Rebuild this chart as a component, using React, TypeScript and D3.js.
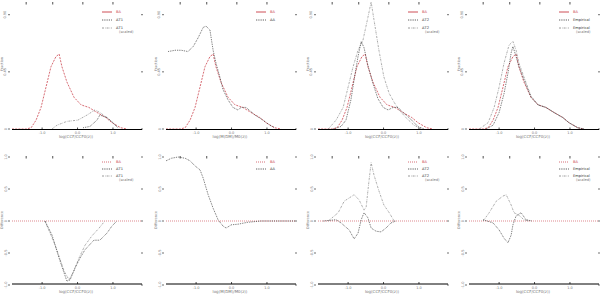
import React from 'react';
import * as d3 from 'd3';

// x axis (log CCF ratio) and tick values
const xDomain = [-1.85, 1.82];
const xTickVals = [-1, 0, 1];
const xTickLabels = ['-1.0', '0.0', '1.0'];
const topTickVals = [-1.45, -0.7, 0.15, 1.0];
const fracTicks = [0, 0.45, 0.9];
const fracTickLabels = ['0', '0.45', '0.90'];
const diffTicks = [-1, -0.5, 0, 0.5, 1];
const diffTickLabels = ['-1.0', '-0.5', '0', '0.5', '1.0'];

// distributions (top row)
const baX = [-1.85, -1.45, -1.31, -1.17, -1.03, -0.89, -0.75, -0.61, -0.52, -0.44, -0.3, -0.1, 0.1, 0.32, 0.55, 0.8, 0.97, 1.22, 1.4];
const baY = [0, 0, 0.01, 0.07, 0.17, 0.33, 0.49, 0.57, 0.59, 0.49, 0.37, 0.25, 0.19, 0.17, 0.13, 0.09, 0.05, 0.01, 0];

const dT1X = [0.16, 0.35, 0.55, 0.63, 0.83, 1.0, 1.14];
const dT1Y = [0.01, 0.02, 0.07, 0.11, 0.09, 0.05, 0.01];
const dT1sX = [-0.72, -0.58, -0.3, 0.01, 0.27, 0.49, 0.63, 0.83, 1.0, 1.14];
const dT1sY = [0, 0.03, 0.06, 0.07, 0.11, 0.15, 0.13, 0.09, 0.05, 0.01];

const dAX = [-1.79, -1.59, -1.42, -1.23, -1.08, -0.94, -0.8, -0.72, -0.61, -0.52, -0.44, -0.33, -0.24, -0.1, 0.04, 0.18, 0.27, 0.41, 0.66, 0.89, 1.08, 1.22];
const dAY = [0.61, 0.62, 0.62, 0.61, 0.65, 0.72, 0.8, 0.81, 0.78, 0.62, 0.52, 0.41, 0.31, 0.23, 0.17, 0.15, 0.17, 0.17, 0.11, 0.07, 0.03, 0.01];

const dT2X = [-1.42, -1.2, -1.06, -0.92, -0.83, -0.72, -0.63, -0.55, -0.44, -0.3, -0.16, -0.01, 0.13, 0.27, 0.41, 0.55, 0.72, 0.97, 1.14];
const dT2Y = [0, 0.02, 0.07, 0.23, 0.39, 0.57, 0.69, 0.64, 0.5, 0.36, 0.24, 0.17, 0.15, 0.17, 0.17, 0.13, 0.09, 0.02, 0];
const dT2sX = [-1.56, -1.34, -1.14, -1.0, -0.86, -0.72, -0.58, -0.44, -0.35, -0.27, -0.13, 0.01, 0.16, 0.3, 0.44, 0.63, 0.86, 1.06];
const dT2sY = [0, 0.07, 0.17, 0.33, 0.49, 0.62, 0.7, 0.88, 1.0, 0.86, 0.62, 0.41, 0.28, 0.21, 0.15, 0.09, 0.03, 0];

const empX = [-1.37, -1.17, -1.0, -0.86, -0.75, -0.66, -0.61, -0.52, -0.44, -0.3, -0.1, 0.1, 0.32, 0.55, 0.8, 0.97, 1.22, 1.4];
const empY = [0, 0.03, 0.13, 0.28, 0.44, 0.6, 0.65, 0.57, 0.49, 0.39, 0.25, 0.19, 0.17, 0.13, 0.09, 0.05, 0.01, 0];
const empsX = [-1.56, -1.31, -1.14, -1.0, -0.86, -0.72, -0.61, -0.52, -0.44, -0.3, -0.1, 0.1, 0.32, 0.55, 0.8, 0.97, 1.22, 1.4];
const empsY = [0, 0.05, 0.17, 0.33, 0.52, 0.66, 0.69, 0.62, 0.52, 0.41, 0.26, 0.19, 0.17, 0.13, 0.09, 0.05, 0.01, 0];

// differences from BA (bottom row)
const zeroX = [-1.85, 1.82];
const zeroY = [0, 0];

const diffT1X = [-0.92, -0.72, -0.52, -0.38, -0.3, -0.21, -0.07, 0.07, 0.21, 0.46, 0.63, 0.83, 0.97, 1.11];
const diffT1Y = [0, -0.22, -0.58, -0.81, -0.94, -0.92, -0.73, -0.58, -0.45, -0.3, -0.3, -0.19, -0.08, 0];
const diffT1sX = [-0.92, -0.63, -0.38, -0.24, -0.1, 0.04, 0.21, 0.41, 0.61, 0.77];
const diffT1sY = [0, -0.38, -0.78, -0.92, -0.78, -0.58, -0.38, -0.23, -0.11, 0];

const diffAX = [-1.85, -1.7, -1.51, -1.31, -1.17, -1.03, -0.89, -0.8, -0.66, -0.52, -0.38, -0.24, -0.15, -0.01, 0.18, 0.46, 0.83, 1.79];
const diffAY = [0.94, 0.98, 1.0, 0.98, 0.94, 0.86, 0.8, 0.67, 0.41, 0.2, 0.02, -0.08, -0.11, -0.06, -0.05, -0.02, 0, 0];

const diffT2X = [-1.7, -1.34, -1.2, -0.97, -0.83, -0.72, -0.63, -0.55, -0.44, -0.35, -0.21, -0.07, 0.07, 0.21, 0.35];
const diffT2Y = [0, 0.02, -0.03, -0.14, -0.28, -0.19, 0.02, 0.13, 0.05, -0.11, -0.16, -0.17, -0.11, -0.03, 0];
const diffT2sX = [-1.56, -1.28, -1.11, -0.97, -0.83, -0.69, -0.55, -0.49, -0.41, -0.35, -0.27, -0.13, 0.01, 0.16, 0.3];
const diffT2sY = [0, 0.13, 0.31, 0.36, 0.41, 0.33, 0.17, 0.22, 0.63, 0.91, 0.72, 0.47, 0.25, 0.13, 0];

const diffEmpX = [-1.45, -1.17, -1.0, -0.86, -0.75, -0.66, -0.61, -0.52, -0.38, -0.24, -0.07];
const diffEmpY = [0.02, -0.03, -0.14, -0.27, -0.34, -0.22, -0.06, 0.08, 0.13, 0.02, 0];
const diffEmpsX = [-1.45, -1.28, -1.08, -0.89, -0.8, -0.66, -0.58, -0.44, -0.3, -0.16];
const diffEmpsY = [0, 0.13, 0.31, 0.39, 0.41, 0.25, 0.13, 0.09, 0.02, 0];

const RED = '#c83a44';
const GRAY = '#8f8f8f';
const FONT = 'DejaVu Sans, sans-serif';

type Style = 'ba' | 'zero' | 'black' | 'gray';
type Series = { xs: number[]; ys: number[]; style: Style };
type LegendItem = { style: Style; label: string; sub?: string };
type PanelDef = { left: number; row: 0 | 1; series: Series[]; legend: LegendItem[]; xlabel: string };

const strokeFor = (s: Style) =>
  s === 'ba' ? { stroke: RED, dash: '2,1.2' }
  : s === 'zero' ? { stroke: RED, dash: '0.8,1.2' }
  : s === 'black' ? { stroke: '#222', dash: '0.8,1' }
  : { stroke: GRAY, dash: '2,1,0.6,1' };

const panels: PanelDef[] = [
  { left: 12, row: 0, xlabel: 'log(CCF/CCF0(z))',
    series: [{ xs: baX, ys: baY, style: 'ba' }, { xs: dT1sX, ys: dT1sY, style: 'gray' }, { xs: dT1X, ys: dT1Y, style: 'black' }],
    legend: [{ style: 'ba', label: 'BA' }, { style: 'black', label: 'ΔT1' }, { style: 'gray', label: 'ΔT1', sub: '(scaled)' }] },
  { left: 166, row: 0, xlabel: 'log(M(DM)/M0(z))',
    series: [{ xs: baX, ys: baY, style: 'ba' }, { xs: dAX, ys: dAY, style: 'black' }],
    legend: [{ style: 'ba', label: 'BA' }, { style: 'black', label: 'ΔA' }] },
  { left: 318, row: 0, xlabel: 'log(CCF/CCF0(z))',
    series: [{ xs: baX, ys: baY, style: 'ba' }, { xs: dT2sX, ys: dT2sY, style: 'gray' }, { xs: dT2X, ys: dT2Y, style: 'black' }],
    legend: [{ style: 'ba', label: 'BA' }, { style: 'black', label: 'ΔT2' }, { style: 'gray', label: 'ΔT2', sub: '(scaled)' }] },
  { left: 469, row: 0, xlabel: 'log(CCF/CCF0(z))',
    series: [{ xs: baX, ys: baY, style: 'ba' }, { xs: empsX, ys: empsY, style: 'gray' }, { xs: empX, ys: empY, style: 'black' }],
    legend: [{ style: 'ba', label: 'BA' }, { style: 'black', label: 'Empirical' }, { style: 'gray', label: 'Empirical', sub: '(scaled)' }] },
  { left: 12, row: 1, xlabel: 'log(CCF/CCF0(z))',
    series: [{ xs: zeroX, ys: zeroY, style: 'zero' }, { xs: diffT1sX, ys: diffT1sY, style: 'gray' }, { xs: diffT1X, ys: diffT1Y, style: 'black' }],
    legend: [{ style: 'zero', label: 'BA' }, { style: 'black', label: 'ΔT1' }, { style: 'gray', label: 'ΔT1', sub: '(scaled)' }] },
  { left: 166, row: 1, xlabel: 'log(M(DM)/M0(z))',
    series: [{ xs: zeroX, ys: zeroY, style: 'zero' }, { xs: diffAX, ys: diffAY, style: 'black' }],
    legend: [{ style: 'zero', label: 'BA' }, { style: 'black', label: 'ΔA' }] },
  { left: 318, row: 1, xlabel: 'log(CCF/CCF0(z))',
    series: [{ xs: zeroX, ys: zeroY, style: 'zero' }, { xs: diffT2sX, ys: diffT2sY, style: 'gray' }, { xs: diffT2X, ys: diffT2Y, style: 'black' }],
    legend: [{ style: 'zero', label: 'BA' }, { style: 'black', label: 'ΔT2' }, { style: 'gray', label: 'ΔT2', sub: '(scaled)' }] },
  { left: 469, row: 1, xlabel: 'log(CCF/CCF0(z))',
    series: [{ xs: zeroX, ys: zeroY, style: 'zero' }, { xs: diffEmpsX, ys: diffEmpsY, style: 'gray' }, { xs: diffEmpX, ys: diffEmpY, style: 'black' }],
    legend: [{ style: 'zero', label: 'BA' }, { style: 'black', label: 'Empirical' }, { style: 'gray', label: 'Empirical', sub: '(scaled)' }] },
];

const Panel: React.FC<{ p: PanelDef }> = ({ p }) => {
  const w = 130;
  const x = d3.scaleLinear().domain(xDomain).range([p.left, p.left + w]);
  const top = p.row === 0 ? 2 : 156;
  const base = p.row === 0 ? 129.5 : 284;
  const y = p.row === 0
    ? d3.scaleLinear().domain([0, 1]).range([129, 2]).clamp(true)
    : d3.scaleLinear().domain([-1, 1]).range([285, 157]).clamp(true);
  const yTicks = p.row === 0 ? fracTicks : diffTicks;
  const yLabels = p.row === 0 ? fracTickLabels : diffTickLabels;
  const path = (s: Series) =>
    d3.line<[number, number]>().x(d => x(d[0])).y(d => y(d[1]))(s.xs.map((v, i) => [v, s.ys[i]] as [number, number])) || '';
  const legTop = p.row === 0 ? [12, 20, 28] : [162, 169, 176];
  const lx = p.left + 104;
  const ymid = p.row === 0 ? 64 : 220;
  return (
    <g>
      {/* top ticks */}
      {topTickVals.map((t, i) => (
        <line key={'tt' + i} x1={x(t)} x2={x(t)} y1={top} y2={top + 2.5} stroke="#222" strokeWidth={0.8} />
      ))}
      {/* left/right ticks */}
      {yTicks.map((t, i) => (
        <g key={'yt' + i}>
          <line x1={p.left - 4} x2={p.left - 2} y1={y(t)} y2={y(t)} stroke="#333" strokeWidth={0.7} />
          <line x1={p.left + w - 1} x2={p.left + w + 1} y1={y(t)} y2={y(t)} stroke="#333" strokeWidth={0.7} />
          <text x={p.left - 5.5} y={y(t)} transform={`rotate(-90 ${p.left - 5.5} ${y(t)})`} textAnchor="middle"
            fontSize={3.5} fill="#777" fontFamily={FONT}>{yLabels[i]}</text>
        </g>
      ))}
      <text x={p.left - 9} y={ymid} transform={`rotate(-90 ${p.left - 9} ${ymid})`}
        textAnchor="middle" fontSize={3.5} fill="#888" fontFamily={FONT}>{p.row === 0 ? 'Fraction' : 'Difference'}</text>
      {/* series */}
      {p.series.map((s, i) => {
        const st = strokeFor(s.style);
        return <path key={'s' + i} d={path(s)} fill="none" stroke={st.stroke} strokeWidth={0.75} strokeDasharray={st.dash} />;
      })}
      {/* bottom axis */}
      <line x1={p.left} x2={p.left + w} y1={base} y2={base} stroke="#000" strokeWidth={1} />
      {xTickVals.map((t, i) => (
        <g key={'xt' + i}>
          <line x1={x(t)} x2={x(t)} y1={base - 2} y2={base} stroke="#000" strokeWidth={0.7} />
          <text x={x(t)} y={base + 4.5} textAnchor="middle" fontSize={3.5} fill="#777" fontFamily={FONT}>{xTickLabels[i]}</text>
        </g>
      ))}
      <text x={p.left + 64} y={base + 8.8} textAnchor="middle" fontSize={4} fill="#777" fontFamily={FONT}>{p.xlabel}</text>
      {/* legend */}
      {p.legend.map((l, i) => {
        const st = strokeFor(l.style);
        const ly = legTop[i];
        const solid = l.style === 'ba' && p.row === 0;
        return (
          <g key={'lg' + i}>
            <line x1={lx - 14} x2={lx - 4} y1={ly} y2={ly} stroke={st.stroke} strokeWidth={0.9}
              strokeDasharray={solid ? undefined : st.dash} />
            <text x={lx} y={ly + 1.3} fontSize={3.6} fill={l.style === 'ba' || l.style === 'zero' ? RED : '#333'} fontFamily={FONT}>{l.label}</text>
            {l.sub && <text x={lx + 3} y={ly + 5} fontSize={3.6} fill="#777" fontFamily={FONT}>{l.sub}</text>}
          </g>
        );
      })}
    </g>
  );
};

export default function App() {
  return (
    <svg width={600} height={296} viewBox="0 0 600 296"
      style={{ position: 'absolute', left: 0, top: 0, background: '#fff', display: 'block' }}>
      <rect x={0} y={0} width={600} height={296} fill="#fff" />
      {panels.map((p, i) => <Panel key={i} p={p} />)}
    </svg>
  );
}
